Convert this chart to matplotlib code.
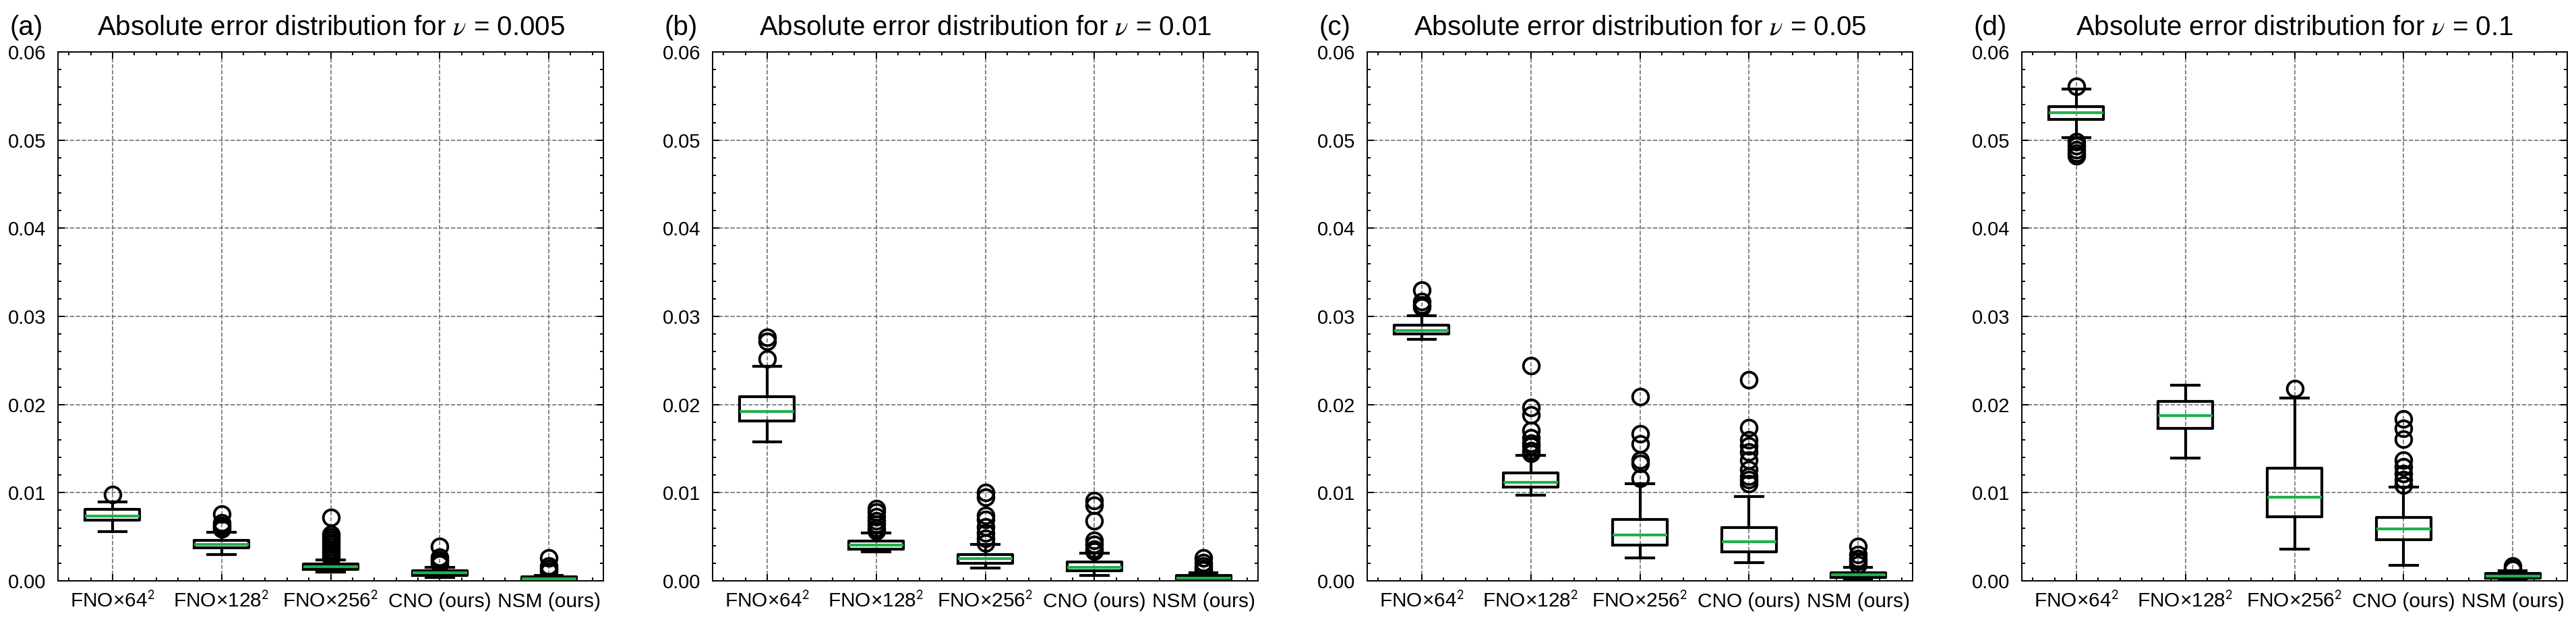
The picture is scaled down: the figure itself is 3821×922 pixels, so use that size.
import matplotlib
matplotlib.use("Agg")
import matplotlib.pyplot as plt
from matplotlib.ticker import AutoMinorLocator, FormatStrFormatter, MultipleLocator

plt.rcParams['font.family'] = ['Liberation Sans', 'DejaVu Sans']
plt.rcParams['mathtext.fontset'] = 'stix'

# ---- data (absolute error) ----
models = ['FNO×64$^{\\mathsf{2}}$', 'FNO×128$^{\\mathsf{2}}$', 'FNO×256$^{\\mathsf{2}}$',
          'CNO (ours)', 'NSM (ours)']
panel_tags = ['(a)', '(b)', '(c)', '(d)']
nus = ['0.005', '0.01', '0.05', '0.1']

# one row per panel, one entry per model
medians = [
    [0.00733, 0.00415, 0.00160, 0.00089, 0.00025],
    [0.01920, 0.00404, 0.00251, 0.00152, 0.00027],
    [0.02839, 0.01121, 0.00520, 0.00444, 0.00067],
    [0.05310, 0.01874, 0.00951, 0.00587, 0.00054],
]
q1 = [
    [0.00687, 0.00374, 0.00127, 0.00059, 0.00010],
    [0.01816, 0.00363, 0.00202, 0.00112, 0.00004],
    [0.02798, 0.01063, 0.00408, 0.00332, 0.00036],
    [0.05238, 0.01726, 0.00726, 0.00466, 0.00027],
]
q3 = [
    [0.00809, 0.00463, 0.00191, 0.00115, 0.00046],
    [0.02090, 0.00453, 0.00300, 0.00211, 0.00058],
    [0.02897, 0.01224, 0.00700, 0.00605, 0.00094],
    [0.05377, 0.02036, 0.01278, 0.00717, 0.00081],
]
whis_lo = [
    [0.00555, 0.00298, 0.00102, 0.00038, 0.00003],
    [0.01578, 0.00332, 0.00148, 0.00063, 0.00000],
    [0.02740, 0.00973, 0.00260, 0.00206, 0.00018],
    [0.05027, 0.01395, 0.00363, 0.00175, 0.00018],
]
whis_hi = [
    [0.00898, 0.00552, 0.00237, 0.00153, 0.00064],
    [0.02435, 0.00547, 0.00413, 0.00314, 0.00094],
    [0.03004, 0.01426, 0.01103, 0.00955, 0.00152],
    [0.05578, 0.02220, 0.02076, 0.01067, 0.00112],
]
outliers = [
    [
        [0.0098],
        [0.0076, 0.0066, 0.0063, 0.0061, 0.0059],
        [0.0072, 0.0053, 0.0050, 0.0047, 0.0044, 0.0041, 0.0038, 0.0035, 0.0032, 0.0029, 0.0026],
        [0.0039, 0.0027, 0.0024, 0.0022, 0.0019],
        [0.0026, 0.0017, 0.0014, 0.0011],
    ],
    [
        [0.0276, 0.0272, 0.0252],
        [0.0082, 0.0078, 0.0073, 0.0068, 0.0064, 0.0060, 0.0057],
        [0.0100, 0.0095, 0.0074, 0.0070, 0.0061, 0.0054, 0.0048, 0.0043],
        [0.0091, 0.0086, 0.0068, 0.0046, 0.0041, 0.0036, 0.0034],
        [0.0026, 0.0021, 0.0017, 0.0014, 0.0012],
    ],
    [
        [0.0330, 0.0317, 0.0313, 0.0311],
        [0.0244, 0.0197, 0.0188, 0.0171, 0.0162, 0.0156, 0.0153, 0.0148, 0.0145],
        [0.0209, 0.0167, 0.0155, 0.0137, 0.0133, 0.0116],
        [0.0228, 0.0174, 0.0160, 0.0153, 0.0146, 0.0137, 0.0126, 0.0119, 0.0115, 0.0110],
        [0.0039, 0.0030, 0.0025, 0.0022, 0.0018],
    ],
    [
        [0.0561, 0.0498, 0.0494, 0.0489, 0.0485, 0.0482],
        [],
        [0.0218],
        [0.0184, 0.0173, 0.0161, 0.0137, 0.0129, 0.0122, 0.0115, 0.0109],
        [0.0017, 0.0014, 0.0013],
    ],
]

W, H = 3821, 922
fig = plt.figure(figsize=(W / 100, H / 100), dpi=100)

box_lw = 3.0
green = '#1fb04c'

for p in range(4):
    left_px = 86 + p * 971
    ax = fig.add_axes([left_px / W, 61 / H, 809 / W, 784 / H])

    stats = []
    for m in range(len(models)):
        stats.append({
            'med': medians[p][m], 'q1': q1[p][m], 'q3': q3[p][m],
            'whislo': whis_lo[p][m], 'whishi': whis_hi[p][m],
            'fliers': outliers[p][m], 'label': models[m],
        })

    ax.bxp(stats, widths=0.5,
           boxprops=dict(color='black', linewidth=box_lw),
           whiskerprops=dict(color='black', linewidth=box_lw),
           capprops=dict(color='black', linewidth=box_lw),
           medianprops=dict(color=green, linewidth=box_lw),
           flierprops=dict(marker='o', markerfacecolor='none', markeredgecolor='black',
                           markersize=17, markeredgewidth=2.8))

    ax.set_xlim(0.5, 5.5)
    ax.set_ylim(0, 0.06)
    ax.yaxis.set_major_locator(MultipleLocator(0.01))
    ax.yaxis.set_major_formatter(FormatStrFormatter('%.2f'))
    ax.yaxis.set_minor_locator(AutoMinorLocator(5))
    ax.xaxis.set_minor_locator(AutoMinorLocator(5))

    ax.tick_params(which='both', direction='in', top=True, right=True, width=1.4)
    ax.tick_params(which='major', length=7)
    ax.tick_params(which='minor', length=3.6)
    ax.tick_params(axis='y', labelsize=21, pad=13)
    ax.tick_params(axis='x', labelsize=21.5, pad=12)
    for s in ax.spines.values():
        s.set_linewidth(1.4)

    ax.grid(True, which='major', linestyle='--', color='#707070', linewidth=1.2)
    ax.set_axisbelow(True)

    ax.set_title(r'Absolute error distribution for $\nu$ = ' + nus[p], fontsize=29, pad=18)
    ax.text(-0.088, 1.032, panel_tags[p], transform=ax.transAxes, fontsize=29,
            ha='left', va='baseline')

fig.savefig('out.png', dpi=100)
